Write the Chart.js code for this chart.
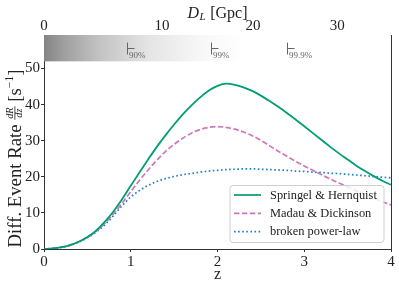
<!DOCTYPE html>
<html><head><meta charset="utf-8">
<script src="https://cdn.jsdelivr.net/npm/chart.js@4/dist/chart.umd.min.js"></script>
<style>html,body{margin:0;padding:0;background:#fff}#wrap{width:399px;height:288px}</style>
</head><body><div id="wrap"><canvas id="c" width="399" height="288"></canvas></div>
<script>
// ---------------- data ----------------
const zVals = [0,0.1,0.2,0.3,0.4,0.5,0.6,0.7,0.8,0.9,1.0,1.1,1.2,1.3,1.4,1.5,1.6,1.7,1.8,1.9,2.0,
  2.1,2.2,2.3,2.4,2.5,2.6,2.7,2.8,2.9,3.0,3.1,3.2,3.3,3.4,3.5,3.6,3.7,3.8,3.9,4.0];
const springel = [0,0.15,0.5,1.1,2.0,3.3,5.1,7.5,10.4,13.8,17.5,21.2,24.8,28.3,31.5,34.5,37.3,39.8,42.0,43.9,45.2,
  45.8,45.5,44.8,43.8,42.5,41.0,39.4,37.7,35.9,34.0,32.1,30.2,28.3,26.5,24.8,23.1,21.6,20.2,18.9,17.8];
const madau = [0,0.15,0.5,1.1,2.0,3.2,4.9,7.1,9.7,12.7,15.9,19.0,21.9,24.6,27.0,29.0,30.7,32.1,33.1,33.7,33.9,
  33.7,33.2,32.4,31.4,30.1,28.6,27.1,25.7,24.3,23.0,21.8,20.6,19.4,18.3,17.2,16.1,15.1,14.1,13.1,12.2];
const brokenPL = [0,0.15,0.45,1.0,1.9,3.1,4.7,6.7,9.2,12.0,14.4,16.2,17.6,18.7,19.5,20.1,20.6,20.9,21.3,21.6,21.8,
  22.0,22.1,22.2,22.2,22.1,22.0,21.9,21.8,21.6,21.5,21.3,21.2,21.0,20.9,20.7,20.5,20.3,20.1,19.9,19.7];
const seriesLabels = ['Springel & Hernquist','Madau & Dickinson','broken power-law'];
const xTicks = [0,1,2,3,4];
const yTicks = [0,10,20,30,40,50];
const dlTickLabels = [0,10,20,30];
const dlTickZ = [0,1.36,2.41,3.38];
const confZ = [0.953,1.93,2.80];
const confLabels = ['90%','99%','99.9%'];
const Y_MAX = 59.3, BAND_MIN = 52;

// ---------------- styles ----------------
const SERIF = '"Liberation Serif", "Times New Roman", serif';
const colors = ['#029e73','#cc78bc','#1a80c6'];
const dashes = [[],[5.5,2.4],[1.6,2.5]];
const INK = '#222';
const AXIS = '#333';

const toXY = arr => zVals.map((z,i)=>({x:z,y:arr[i]}));
const seriesData = [springel, madau, brokenPL];

const datasets = seriesData.map((d,i)=>({
  label: seriesLabels[i], data: toXY(d), xAxisID:'x', yAxisID:'y',
  borderColor: colors[i], backgroundColor: colors[i], borderWidth: i===0?1.8:1.7,
  borderDash: dashes[i], borderCapStyle:'butt', pointRadius:0, fill:false,
  cubicInterpolationMode:'monotone'
}));

const deco = {
  id:'deco',
  beforeDatasetsDraw(chart){
    const {ctx, chartArea:a, scales:{x,y}} = chart;
    const yb = y.getPixelForValue(BAND_MIN);
    const g = ctx.createLinearGradient(a.left,0,a.right,0);
    g.addColorStop(0,'rgb(132,132,132)');
    g.addColorStop(0.06,'rgb(160,160,160)');
    g.addColorStop(0.16,'rgb(195,195,195)');
    g.addColorStop(0.3,'rgb(228,228,228)');
    g.addColorStop(0.45,'rgb(247,247,247)');
    g.addColorStop(0.58,'rgb(255,255,255)');
    g.addColorStop(1,'rgb(255,255,255)');
    ctx.save();
    ctx.fillStyle = g;
    ctx.fillRect(a.left, a.top, a.right-a.left, yb-a.top);
    ctx.strokeStyle = '#666'; ctx.lineWidth = 1;
    ctx.fillStyle = '#666';
    ctx.font = '9px '+SERIF; ctx.textAlign='left'; ctx.textBaseline='middle';
    confZ.forEach((z,i)=>{
      const px = Math.round(x.getPixelForValue(z))+0.5;
      const y1 = y.getPixelForValue(57.2), y2 = y.getPixelForValue(53.9);
      const ym = Math.round(y.getPixelForValue(55.6))+0.5;
      ctx.beginPath(); ctx.moveTo(px,y1); ctx.lineTo(px,y2);
      ctx.moveTo(px,ym); ctx.lineTo(px+7,ym); ctx.stroke();
      ctx.fillText(confLabels[i], px+1.5, y.getPixelForValue(53.7));
    });
    ctx.restore();
  },
  afterDraw(chart){
    const {ctx, chartArea:a, scales:{x2}} = chart;
    ctx.save();
    // right spine
    ctx.strokeStyle = AXIS; ctx.lineWidth = 1;
    ctx.beginPath(); ctx.moveTo(Math.round(a.right)+0.5, a.top); ctx.lineTo(Math.round(a.right)+0.5, a.bottom); ctx.stroke();
    ctx.fillStyle = INK;
    // top tick labels (D_L)
    ctx.font = '15px '+SERIF; ctx.textAlign='center'; ctx.textBaseline='alphabetic';
    dlTickZ.forEach((z,i)=>{ ctx.fillText(String(dlTickLabels[i]), x2.getPixelForValue(z), 30); });
    // x title
    ctx.font = '16px '+SERIF; ctx.textAlign='center'; ctx.textBaseline='alphabetic';
    ctx.fillText('z', (a.left+a.right)/2, 279);
    // top title  D_L [Gpc]
    const fD = 'italic 16px '+SERIF, fL = 'italic 11px '+SERIF, fR = '16px '+SERIF;
    ctx.font=fD; const wD = ctx.measureText('D').width;
    ctx.font=fL; const wL = ctx.measureText('L').width;
    ctx.font=fR; const wR = ctx.measureText(' [Gpc]').width;
    let sx = (a.left+a.right)/2 - (wD+wL+1+wR)/2;
    ctx.textAlign='left';
    ctx.font=fD; ctx.fillText('D', sx, 17.5); sx += wD+0.5;
    ctx.font=fL; ctx.fillText('L', sx, 20); sx += wL+0.5;
    ctx.font=fR; ctx.fillText(' [Gpc]', sx, 17.5);
    // y title, sized to the target length
    const t1 = 'Diff. Event Rate ', t2 = ' [s', t3 = '\u22121', t4 = ']';
    const measure = (s)=>{
      ctx.font = s+'px '+SERIF; const w1 = ctx.measureText(t1).width, w2 = ctx.measureText(t2).width, w4 = ctx.measureText(t4).width;
      ctx.font = 'italic '+(s*0.55)+'px '+SERIF; const wf = Math.max(ctx.measureText('dR').width, ctx.measureText('dz').width)+2;
      ctx.font = (s*0.62)+'px '+SERIF; const w3 = ctx.measureText(t3).width;
      return {w1,w2,w3,w4,wf,total:w1+wf+w2+w3+w4};
    };
    let fs = 18; const m0 = measure(fs); fs = Math.min(19, fs*178/m0.total);
    const m = measure(fs);
    ctx.translate(20.5, 158.5); ctx.rotate(-Math.PI/2);
    let p = -m.total/2;
    ctx.font=fs+'px '+SERIF; ctx.fillText(t1, p, 0); p += m.w1;
    ctx.font='italic '+(fs*0.55)+'px '+SERIF; ctx.textAlign='center';
    ctx.fillText('dR', p+m.wf/2, -fs*0.39);
    ctx.fillText('dz', p+m.wf/2, fs*0.06);
    ctx.fillRect(p, -fs*0.32, m.wf, 0.8);
    ctx.textAlign='left'; p += m.wf;
    ctx.font=fs+'px '+SERIF; ctx.fillText(t2, p, 0); p += m.w2;
    ctx.font=(fs*0.62)+'px '+SERIF; ctx.fillText(t3, p, -fs*0.4); p += m.w3;
    ctx.font=fs+'px '+SERIF; ctx.fillText(t4, p, 0);
    ctx.restore();
    // legend
    ctx.save();
    const L = a.right - 161, R = a.right - 7, T = a.bottom - 63.5, B = a.bottom - 6.5;
    const r = 3;
    ctx.beginPath();
    ctx.moveTo(L+r,T); ctx.lineTo(R-r,T); ctx.quadraticCurveTo(R,T,R,T+r);
    ctx.lineTo(R,B-r); ctx.quadraticCurveTo(R,B,R-r,B); ctx.lineTo(L+r,B);
    ctx.quadraticCurveTo(L,B,L,B-r); ctx.lineTo(L,T+r); ctx.quadraticCurveTo(L,T,L+r,T); ctx.closePath();
    ctx.fillStyle='rgba(255,255,255,0.8)'; ctx.fill();
    ctx.strokeStyle='#cfcfcf'; ctx.lineWidth=1; ctx.stroke();
    ctx.font = '12.5px '+SERIF;
    const lw = ctx.measureText(seriesLabels[0]).width;
    const lfs = Math.min(13.5, 12.5*107/lw);
    ctx.font = lfs+'px '+SERIF; ctx.textBaseline='middle'; ctx.textAlign='left';
    seriesLabels.forEach((lab,i)=>{
      const yy = T + 9.5 + i*18.3;
      ctx.strokeStyle = colors[i]; ctx.lineWidth = 1.7; ctx.setLineDash(dashes[i]); ctx.lineCap='butt';
      ctx.beginPath(); ctx.moveTo(L+4, yy); ctx.lineTo(L+31, yy); ctx.stroke();
      ctx.setLineDash([]);
      ctx.fillStyle = INK; ctx.fillText(lab, L+40, yy+0.5);
    });
    ctx.restore();
  }
};

const tickFont = {family: SERIF, size: 15};

new Chart(document.getElementById('c'), {
  type:'line',
  data:{datasets},
  options:{
    responsive:false, animation:false, devicePixelRatio:1,
    layout:{padding:{left:0,right:8,top:0,bottom:0}},
    plugins:{legend:{display:false}, tooltip:{enabled:false}},
    scales:{
      x:{type:'linear', position:'bottom', min:0, max:4,
        afterBuildTicks:s=>{s.ticks = xTicks.map(v=>({value:v}));},
        afterFit:s=>{s.height=39;},
        ticks:{font:tickFont, color:INK, padding:1, maxRotation:0, callback:v=>String(v)},
        grid:{display:true, drawOnChartArea:false, drawTicks:true, tickLength:3, color:AXIS},
        border:{display:true, color:AXIS}},
      x2:{type:'linear', position:'top', min:0, max:4,
        afterBuildTicks:s=>{s.ticks = dlTickZ.map(v=>({value:v}));},
        afterFit:s=>{s.height=35;},
        ticks:{display:false},
        grid:{display:false, drawTicks:false, tickLength:0},
        border:{display:true, color:AXIS}},
      y:{type:'linear', position:'left', min:0, max:Y_MAX,
        afterBuildTicks:s=>{s.ticks = yTicks.map(v=>({value:v}));},
        afterFit:s=>{s.width=44;},
        ticks:{font:tickFont, color:INK, padding:1, callback:v=>String(v)},
        grid:{display:true, drawOnChartArea:false, drawTicks:true, tickLength:3, color:AXIS},
        border:{display:true, color:AXIS}}
    }
  },
  plugins:[deco]
});
</script></body></html>
